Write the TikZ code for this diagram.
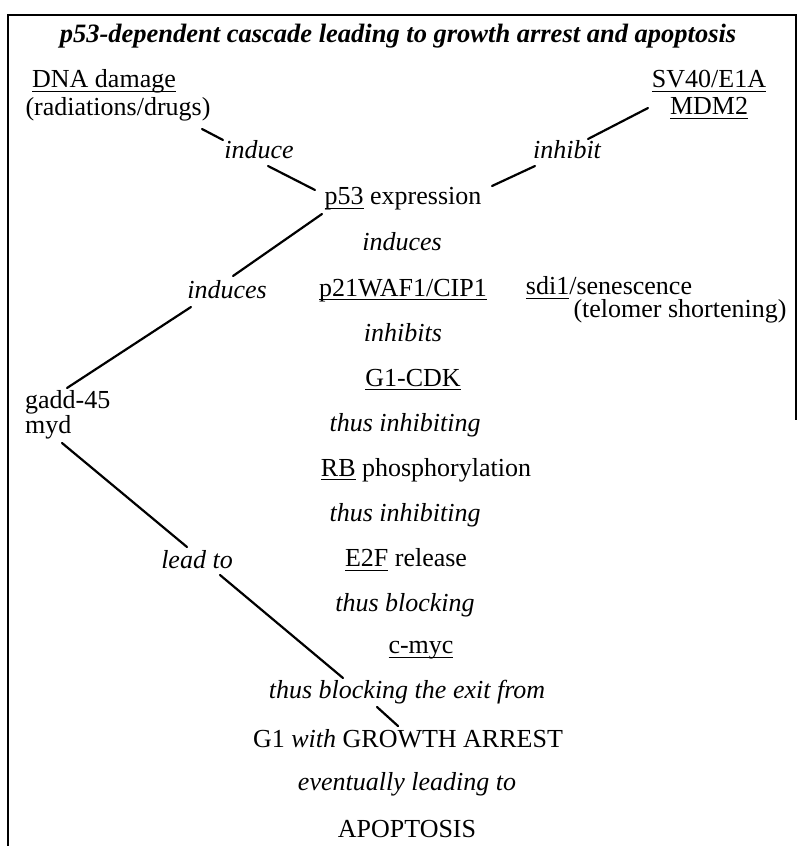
\documentclass[tikz,border=0pt]{standalone}
\usepackage{amsmath}
\usepackage{fontspec}
\setmainfont{Liberation Serif}
\newcommand{\ulx}[1]{\underline{\smash[b]{#1}}}

\begin{document}
\begin{tikzpicture}[x=1pt, y=-1pt,
		every node/.style={inner sep=0pt, font=\fontsize{26}{23}\selectfont},
		act/.style={font=\fontsize{26}{23}\selectfont\itshape},
		link/.style={line width=2.2pt, line cap=round},
		frame/.style={line width=2.5pt}]
		\useasboundingbox (0,0) rectangle (797,846);
		% frame, open at the bottom
		\draw[frame] (8,846) |- (796,15) -- (796,420);
		\node[font=\fontsize{26.5}{23}\selectfont\bfseries\itshape] (title) at (398,36) {p53-dependent cascade leading to growth arrest and apoptosis};
		
		% upstream signals
		\node (dna) at (104,81) {\ulx{DNA damage}};
		\node (dnaNote) at (118,109) {(radiations/drugs)};
		\node[align=center, font=\fontsize{26}{27}\selectfont] (sv40) at (709,95) {\ulx{SV40/E1A}\\\ulx{MDM2}};
		\node[act] (induceA) at (259,150) {induce};
		\node[act] (inhibitA) at (567,150) {inhibit};
		\node (p53) at (403,199) {\ulx{p53} expression};
		
		% main cascade
		\node[act] (inducesA) at (402,242) {induces};
		\node (p21) at (403,290) {\ulx{p21WAF1/CIP1}};
		\node[act] (inhibitsA) at (403,333) {inhibits};
		\node (cdk) at (413,380) {\ulx{G1-CDK}};
		\node[act] (thusInhA) at (405,425) {thus inhibiting};
		\node (rb) at (426,470) {\ulx{RB} phosphorylation};
		\node[act] (thusInhB) at (405,515) {thus inhibiting};
		\node (e2f) at (406,560) {\ulx{E2F} release};
		\node[act] (thusBlockA) at (405,605) {thus blocking};
		\node (cmyc) at (421,650) {\ulx{c-myc}};
		\node[act] (thusBlockB) at (407,692) {thus blocking the exit from};
		\node (arrest) at (408,739) {G1 \textit{with} GROWTH ARREST};
		\node[act] (eventually) at (407,784) {eventually leading to};
		\node (apoptosis) at (407,829) {APOPTOSIS};
		
		% side branches
		\node (sdi) at (609,288) {\ulx{sdi1}/senescence};
		\node (telomer) at (680,311) {(telomer shortening)};
		\node[act] (inducesB) at (227,290) {induces};
		\node[align=left, anchor=west] (gadd) at (25,415) {gadd-45\\myd};
		\node[act] (leadTo) at (197,560) {lead to};
		
		% links
		\draw[link] ([shift={(84,20)}]dnaNote.center) -- ([shift={(-36,-10)}]induceA.center);
		\draw[link] ([shift={(9,16)}]induceA.center) -- ([shift={(-88,-9)}]p53.center);
		\draw[link] ([shift={(89,-13)}]p53.center) -- ([shift={(-32,16)}]inhibitA.center);
		\draw[link] ([shift={(21,-11)}]inhibitA.center) -- ([shift={(-61,13)}]sv40.center);
		\draw[link] ([shift={(-81,15)}]p53.center) -- ([shift={(6,-14)}]inducesB.center);
		\draw[link] ([shift={(-36,17)}]inducesB.center) -- ([shift={(42,-27)}]gadd.west);
		\draw[link] ([shift={(37,28)}]gadd.west) -- ([shift={(-10,-13)}]leadTo.center);
		\draw[link] ([shift={(23,15)}]leadTo.center) -- ([shift={(-64,-14)}]thusBlockB.center);
		\draw[link] ([shift={(-30,15)}]thusBlockB.center) -- ([shift={(-10,-13)}]arrest.center);
	\end{tikzpicture}
\end{document}
